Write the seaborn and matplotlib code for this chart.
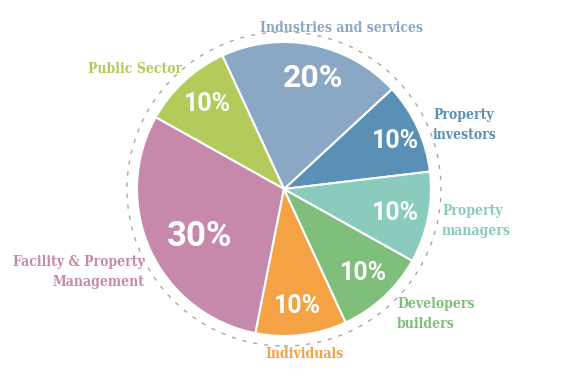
import matplotlib.pyplot as plt
import matplotlib.patches as mpatches
import seaborn as sns

# slice data, counterclockwise from the right
sectors = ["Property\ninvestors", "Industries and services", "Public Sector",
           "Facility & Property\nManagement", "Individuals",
           "Developers\nbuilders", "Property\nmanagers"]
shares = [10, 20, 10, 30, 10, 10, 10]
colors = ["#5a90b5", "#8aa8c6", "#b3cb5a", "#c789ab", "#f4a244", "#80bf7b", "#8acbbd"]

sns.set_theme(style="white")

W, H = 584, 384
fig = plt.figure(figsize=(W / 100, H / 100), dpi=100)
ax = fig.add_axes([0, 0, 1, 1])

cx, cy, r = 284, H - 189, 147
wedges, _, autotexts = ax.pie(
    shares, colors=colors, startangle=6.8, counterclock=True,
    center=(cx, cy), radius=r, autopct="%d%%",
    wedgeprops=dict(edgecolor="white", linewidth=1.5),
    textprops=dict(color="white", fontweight="bold", family="Roboto"))

# percent label placement (pixel coords in the image) and sizes
pct_pos = [(395, 141), (313, 78), (208, 104), (200, 236), (297, 306), (363, 273), (396, 213)]
pct_size = [18, 23, 18, 25, 18, 18, 18]
for t, (px, py), s in zip(autotexts, pct_pos, pct_size):
    t.set_position((px, H - py))
    t.set_fontsize(s)

# dashed ring around the pie
ax.add_patch(mpatches.Circle((cx, cy), 157, fill=False, edgecolor="#a8a8a8",
                             linestyle=(0, (3, 5)), linewidth=1))

# outside category labels
label_pos = [(433, 125, "left"), (342, 28, "center"), (182, 69, "right"),
             (145, 272, "right"), (265, 354, "left"), (397, 314, "left"),
             (442, 221, "left")]
for name, c, (lx, ly, ha) in zip(sectors, colors, label_pos):
    ax.text(lx, H - ly, name, color=c, ha=ha, va="center", fontsize=10,
            fontweight="bold", family="DejaVu Serif", fontstretch="condensed",
            linespacing=1.6)

ax.set_xlim(0, W)
ax.set_ylim(0, H)
ax.set_aspect("equal")
ax.axis("off")

fig.savefig("out.png", dpi=100)
